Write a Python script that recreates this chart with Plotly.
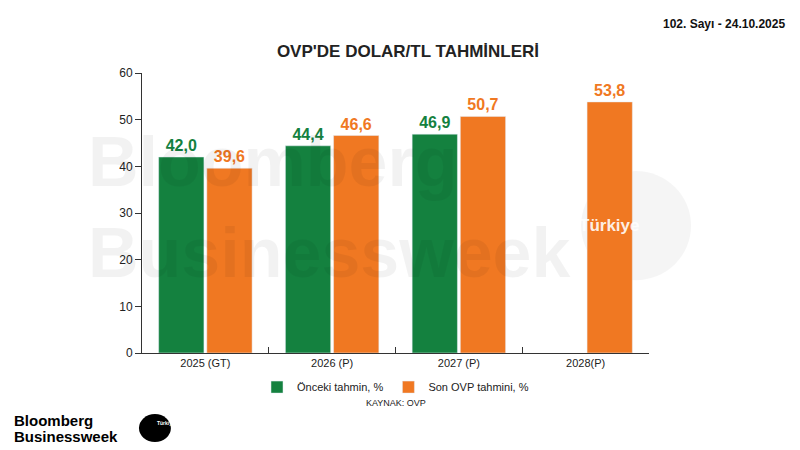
import plotly.graph_objects as go

categories = ["2025 (GT)", "2026 (P)", "2027 (P)", "2028(P)"]
onceki = [42.0, 44.4, 46.9, None]
son = [39.6, 46.6, 50.7, 53.8]
GREEN = "#14813f"
ORANGE = "#f07822"

def lab(v):
    return "" if v is None else f"<b>{v:.1f}</b>".replace(".", ",")

fig = go.Figure()
fig.add_bar(x=categories, y=onceki, name="Önceki tahmin, %", marker_color=GREEN,
            text=[lab(v) for v in onceki], textposition="outside",
            textfont=dict(color=GREEN, size=16, family="Liberation Sans"), cliponaxis=False)
fig.add_bar(x=categories, y=son, name="Son OVP tahmini, %", marker_color=ORANGE,
            text=[lab(v) for v in son], textposition="outside",
            textfont=dict(color=ORANGE, size=16, family="Liberation Sans"), cliponaxis=False)

fig.update_layout(
    width=800, height=450, barmode="group", bargap=0.24, bargroupgap=0.06,
    margin=dict(l=134, r=159, t=65, b=105, autoexpand=False),
    paper_bgcolor="white", plot_bgcolor="white",
    font=dict(family="Liberation Sans", color="#222", size=11),
    uniformtext=dict(mode="show", minsize=8),
    title=dict(text="<b>OVP'DE DOLAR/TL TAHMİNLERİ</b>", x=0.5, xanchor="center",
               y=0.905, yanchor="middle", font=dict(size=17, color="#222")),
    legend=dict(orientation="h", x=0.5, xanchor="center", y=-0.07, yanchor="top",
                font=dict(size=11), itemwidth=30, traceorder="normal"),
)
fig.update_yaxes(range=[0, 60], dtick=10, showgrid=False, showline=True, linecolor="#333",
                 ticks="outside", ticklen=6, tickcolor="#333", zeroline=False,
                 tickfont=dict(size=12), automargin=False)
fig.update_xaxes(showline=True, linecolor="#333", showgrid=False, ticks="inside",
                 tickson="boundaries", ticklen=6, tickcolor="#333", tickfont=dict(size=11),
                 automargin=False)

fig.add_annotation(text="<b>Bloomberg<br>Businessweek</b>", x=-0.11, y=0.52, xref="paper", yref="paper",
                   xanchor="left", showarrow=False, font=dict(size=70, color="rgba(0,0,0,0.05)"),
                   align="left")
fig.add_shape(type="circle", xref="paper", yref="paper", x0=0.866, x1=1.083, y0=0.26, y1=0.65,
              fillcolor="rgba(0,0,0,0.04)", line_width=0, layer="below")
fig.add_annotation(text="<b>Türkiye</b>", x=0.984, y=0.454, xref="paper", yref="paper",
                   showarrow=False, font=dict(size=17, color="rgba(255,255,255,0.9)"))
fig.add_annotation(text="<b>102. Sayı - 24.10.2025</b>", x=1, y=1, xref="paper", yref="paper",
                   xanchor="right", yanchor="middle", xshift=138, yshift=49,
                   showarrow=False, font=dict(size=12, color="#111"))
fig.add_annotation(text="KAYNAK: OVP", x=0.5, y=-0.155, xref="paper", yref="paper",
                   yanchor="top", showarrow=False, font=dict(size=9, color="#222"))
fig.add_annotation(text="<b>Bloomberg</b>", x=0, y=0, xref="paper", yref="paper",
                   xanchor="left", yanchor="middle", xshift=-130, yshift=-67,
                   showarrow=False, font=dict(size=15, color="#000"))
fig.add_annotation(text="<b>Businessweek</b>", x=0, y=0, xref="paper", yref="paper",
                   xanchor="left", yanchor="middle", xshift=-130, yshift=-83,
                   showarrow=False, font=dict(size=15, color="#000"))
fig.add_shape(type="circle", xref="paper", yref="paper", x0=-0.006, x1=0.057, y0=-0.318, y1=-0.218,
              fillcolor="black", line_width=0)
fig.add_annotation(text="<b>Türkiye</b>", x=0.0255, y=-0.268, xref="paper", yref="paper",
                   showarrow=False, font=dict(size=5, color="white"))

fig.write_html("out.html")
